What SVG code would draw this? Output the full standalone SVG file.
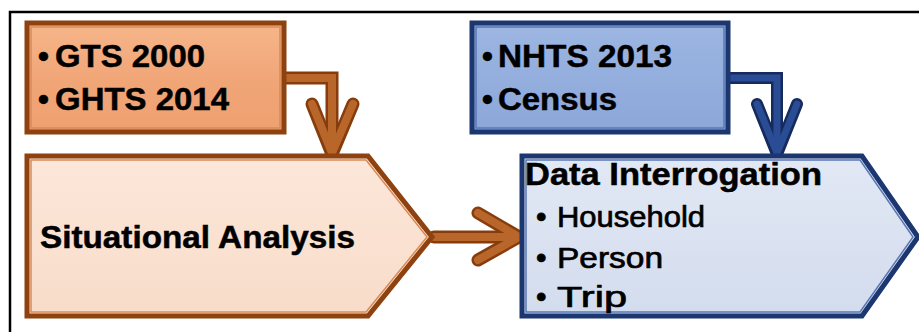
<svg xmlns="http://www.w3.org/2000/svg" width="919" height="332" viewBox="0 0 919 332">
<style>
.hdr{font-family:"Liberation Sans",Arial,sans-serif;font-weight:bold;font-size:31px;fill:#000;stroke:#000;stroke-width:0.5}
.itm{font-family:"Liberation Sans",Arial,sans-serif;font-size:30px;fill:#000;stroke:#000;stroke-width:0.7}
.brownEdge{fill:none;stroke:#8E420F;stroke-width:5;stroke-linejoin:miter}
.blueEdge{fill:none;stroke:#1C3670;stroke-width:5;stroke-linejoin:miter}
.brownHi{fill:none;stroke:#D98A55;stroke-width:1.5}
.blueHi{fill:none;stroke:#5877B5;stroke-width:1.5}
.arrB1{fill:none;stroke:#873C0D;stroke-width:13;stroke-linecap:round;stroke-linejoin:miter}
.arrB2{fill:none;stroke:#B9662A;stroke-width:8;stroke-linecap:round;stroke-linejoin:miter}
.arrN1{fill:none;stroke:#152B5E;stroke-width:12;stroke-linecap:round;stroke-linejoin:miter}
.arrN2{fill:none;stroke:#2A4C95;stroke-width:7;stroke-linecap:round;stroke-linejoin:miter}
</style>
<defs>
<linearGradient id="gOr" x1="0" y1="0" x2="0" y2="1">
<stop offset="0" stop-color="#F6B68A"/><stop offset="0.5" stop-color="#F1A678"/><stop offset="1" stop-color="#EEA070"/>
</linearGradient>
<linearGradient id="gPe" x1="0" y1="0" x2="0" y2="1">
<stop offset="0" stop-color="#FCE7DA"/><stop offset="1" stop-color="#F8DCC9"/>
</linearGradient>
<linearGradient id="gBl" x1="0" y1="0" x2="0" y2="1">
<stop offset="0" stop-color="#9DB6E2"/><stop offset="1" stop-color="#8BA7D9"/>
</linearGradient>
<linearGradient id="gLb" x1="0" y1="0" x2="0" y2="1">
<stop offset="0" stop-color="#E2E8F4"/><stop offset="1" stop-color="#D3DCEE"/>
</linearGradient>
</defs>
<rect x="10" y="12" width="930" height="340" fill="none" stroke="#000" stroke-width="2.5"/>

<g id="connectors">
<g id="c-gts">
<path class="arrB1" d="M286,78 H332 V152"/>
<path class="arrB1" d="M312,104 L332,154 L353,104"/>
<path class="arrB2" d="M286,78 H332 V152"/>
<path class="arrB2" d="M312,104 L332,153 L353,104"/>
</g>
<g id="c-nhts">
<path class="arrN1" d="M730,78 H777 V152"/>
<path class="arrN1" d="M757,104 L777,154 L797,104"/>
<path class="arrN2" d="M730,78 H777 V152"/>
<path class="arrN2" d="M757,104 L777,153 L797,104"/>
</g>
<g id="c-sit">
<path class="arrB1" d="M434,237 H518"/>
<path class="arrB1" d="M478,213 L519,237 L478,260"/>
<path class="arrB2" d="M434,237 H518"/>
<path class="arrB2" d="M478,213 L519,237 L478,260"/>
</g>
</g>

<g id="n-gts">
<rect x="27" y="23" width="257" height="109" fill="url(#gOr)"/>
<rect x="27" y="23" width="257" height="109" class="brownEdge"/>
<rect x="31" y="27" width="249" height="101" class="brownHi"/>
<text class="hdr" x="38" y="67">•</text>
<text class="hdr" x="55" y="67" textLength="150" lengthAdjust="spacingAndGlyphs">GTS 2000</text>
<text class="hdr" x="38" y="110">•</text>
<text class="hdr" x="55" y="110" textLength="174" lengthAdjust="spacingAndGlyphs">GHTS 2014</text>
</g>

<g id="n-nhts">
<rect x="472" y="23" width="256" height="109" fill="url(#gBl)"/>
<rect x="472" y="23" width="256" height="109" class="blueEdge"/>
<rect x="476" y="27" width="248" height="101" class="blueHi"/>
<text class="hdr" x="482" y="67">•</text>
<text class="hdr" x="498" y="67" textLength="174" lengthAdjust="spacingAndGlyphs">NHTS 2013</text>
<text class="hdr" x="482" y="110">•</text>
<text class="hdr" x="498" y="110" textLength="119" lengthAdjust="spacingAndGlyphs">Census</text>
</g>

<g id="n-sit">
<path d="M27,156 H368 L432,237 L368,316 H27 Z" fill="url(#gPe)"/>
<path d="M27,156 H368 L432,237 L368,316 H27 Z" class="brownEdge"/>
<path d="M31,160 H366 L427,237 L366,312 H31 Z" class="brownHi"/>
<text class="hdr" x="40" y="248" textLength="315" lengthAdjust="spacingAndGlyphs">Situational Analysis</text>
</g>

<g id="n-data">
<path d="M522,156 H862 L918,237 L862,316 H522 Z" fill="url(#gLb)"/>
<path d="M522,156 H862 L918,237 L862,316 H522 Z" class="blueEdge"/>
<path d="M526,160 H860 L913,237 L860,312 H526 Z" class="blueHi"/>
<text class="hdr" x="525" y="185" textLength="297" lengthAdjust="spacingAndGlyphs">Data Interrogation</text>
<text class="itm" x="536" y="227">•</text>
<text class="itm" x="557" y="227" textLength="148" lengthAdjust="spacingAndGlyphs">Household</text>
<text class="itm" x="536" y="268">•</text>
<text class="itm" x="557" y="268" textLength="106" lengthAdjust="spacingAndGlyphs">Person</text>
<text class="itm" x="536" y="307">•</text>
<text class="itm" x="557" y="307" textLength="70" lengthAdjust="spacingAndGlyphs">Trip</text>
</g>
</svg>
